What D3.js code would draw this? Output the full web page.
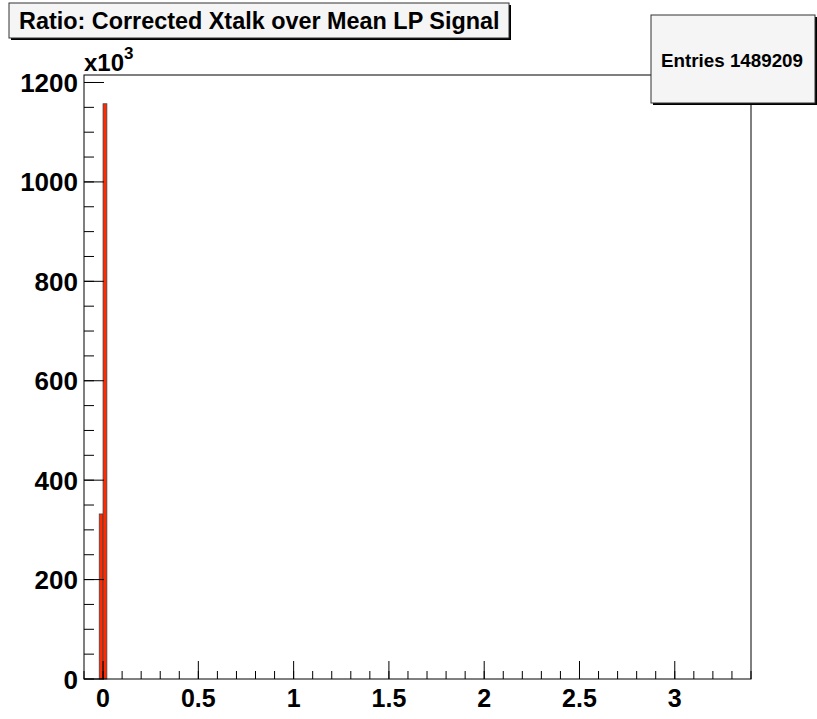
<!DOCTYPE html>
<html>
<head>
<meta charset="utf-8">
<script src="https://cdn.jsdelivr.net/npm/d3@7"></script>
<style>
  body { margin: 0; background: #fff; }
  text { font-family: "Liberation Sans", Arial, Helvetica, sans-serif; font-weight: bold; }
</style>
</head>
<body>
<div id="chart"></div>
<script>
var width = 817, height = 719;

// histogram: two filled bins near zero
var binStart = [-0.02, 0.0];
var binEnd = [0.0, 0.02];
var counts = [332000, 1157209];
var entries = 1489209;

var xTicks = [0, 0.5, 1, 1.5, 2, 2.5, 3];
var xTickLabels = ["0", "0.5", "1", "1.5", "2", "2.5", "3"];
var yTicks = [0, 200000, 400000, 600000, 800000, 1000000, 1200000];
var yTickLabels = ["0", "200", "400", "600", "800", "1000", "1200"];

var titleText = "Ratio: Corrected Xtalk over Mean LP Signal";

var padLeft = 84, padRight = 751, padTop = 75, padBottom = 679;

var svg = d3.select("#chart")
  .append("svg")
  .attr("width", width)
  .attr("height", height);

var x = d3.scaleLinear().domain([-0.1, 3.4]).range([padLeft, padRight]);
var y = d3.scaleLinear().domain([0, d3.max(counts) * 1.05]).range([padBottom, padTop]);

// bars
svg.selectAll("rect.bin")
  .data(counts)
  .enter()
  .append("rect")
  .attr("class", "bin")
  .attr("x", function(d, i) { return x(binStart[i]); })
  .attr("y", function(d) { return y(d); })
  .attr("width", function(d, i) { return x(binEnd[i]) - x(binStart[i]); })
  .attr("height", function(d) { return padBottom - y(d); })
  .style("fill", "#ff2a00")
  .style("stroke", "#444")
  .style("stroke-width", 0.8);

// frame
svg.append("rect")
  .attr("x", padLeft)
  .attr("y", padTop)
  .attr("width", padRight - padLeft)
  .attr("height", padBottom - padTop)
  .style("fill", "none")
  .style("stroke", "#000")
  .style("stroke-width", 1);

// x axis ticks
var xMinor = d3.range(-1, 35).map(function(i) { return i / 10; });
svg.selectAll("line.xminor")
  .data(xMinor)
  .enter()
  .append("line")
  .attr("x1", function(d) { return x(d); })
  .attr("x2", function(d) { return x(d); })
  .attr("y1", padBottom)
  .attr("y2", padBottom - 8)
  .style("stroke", "#000");

svg.selectAll("line.xmajor")
  .data(xTicks)
  .enter()
  .append("line")
  .attr("x1", function(d) { return x(d); })
  .attr("x2", function(d) { return x(d); })
  .attr("y1", padBottom)
  .attr("y2", padBottom - 18)
  .style("stroke", "#000");

svg.selectAll("text.xlab")
  .data(xTicks)
  .enter()
  .append("text")
  .attr("x", function(d) { return x(d); })
  .attr("y", 707)
  .attr("text-anchor", "middle")
  .attr("font-size", "25px")
  .text(function(d, i) { return xTickLabels[i]; });

// y axis ticks
var yMinor = d3.range(0, 25).map(function(i) { return i * 50000; });
svg.selectAll("line.yminor")
  .data(yMinor)
  .enter()
  .append("line")
  .attr("x1", padLeft)
  .attr("x2", padLeft + 10)
  .attr("y1", function(d) { return y(d); })
  .attr("y2", function(d) { return y(d); })
  .style("stroke", "#000");

svg.selectAll("line.ymajor")
  .data(yTicks)
  .enter()
  .append("line")
  .attr("x1", padLeft)
  .attr("x2", padLeft + 20)
  .attr("y1", function(d) { return y(d); })
  .attr("y2", function(d) { return y(d); })
  .style("stroke", "#000");

svg.selectAll("text.ylab")
  .data(yTicks)
  .enter()
  .append("text")
  .attr("x", 78)
  .attr("y", function(d) { return y(d) + 9.5; })
  .attr("text-anchor", "end")
  .attr("font-size", "26px")
  .text(function(d, i) { return yTickLabels[i]; });

// x10^3 multiplier
var mult = svg.append("text")
  .attr("x", 84)
  .attr("y", 71)
  .attr("font-size", "24px");
mult.append("tspan").text("x10");
mult.append("tspan")
  .attr("dy", -12)
  .attr("font-size", "17px")
  .text("3");

// title box
svg.append("rect")
  .attr("x", 11).attr("y", 5)
  .attr("width", 500).attr("height", 35)
  .style("fill", "#000");
svg.append("rect")
  .attr("x", 9).attr("y", 3)
  .attr("width", 500).attr("height", 35)
  .style("fill", "#f5f5f5")
  .style("stroke", "#333")
  .style("stroke-width", 1);
svg.append("text")
  .attr("x", 19)
  .attr("y", 29)
  .attr("font-size", "23.4px")
  .text(titleText);

// stats box
svg.append("rect")
  .attr("x", 653).attr("y", 17)
  .attr("width", 164).attr("height", 88)
  .style("fill", "#000");
svg.append("rect")
  .attr("x", 651).attr("y", 15)
  .attr("width", 164).attr("height", 88)
  .style("fill", "#f5f5f5")
  .style("stroke", "#333")
  .style("stroke-width", 1);
svg.append("text")
  .attr("x", 661)
  .attr("y", 67)
  .attr("font-size", "18.8px")
  .text("Entries " + entries);
</script>
</body>
</html>
